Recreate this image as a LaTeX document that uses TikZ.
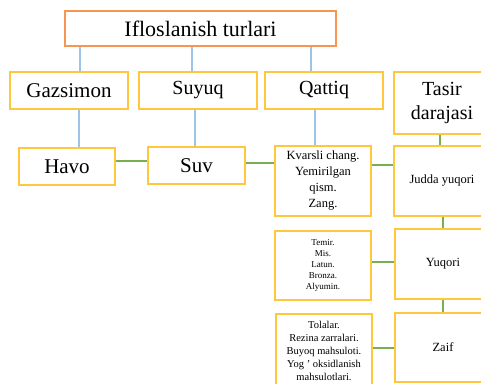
\documentclass[tikz,border=0pt]{standalone}
\usepackage{fontspec}
\setmainfont{Liberation Serif}
\definecolor{orangeline}{RGB}{247,150,80}
\definecolor{goldline}{RGB}{255,200,60}
\definecolor{blueline}{RGB}{157,195,230}
\definecolor{greenline}{RGB}{120,175,80}
\tikzset{
    box/.style={draw=goldline, line width=1.1pt, fill=white, align=center, inner sep=1pt},
    topbox/.style={box, draw=orangeline},
    up/.style={draw=blueline, line width=1.2pt},
    link/.style={draw=greenline, line width=1.3pt}
}
\begin{document}
\begin{tikzpicture}[x=1pt, y=-1pt]
        \useasboundingbox (0,0) rectangle (481,383);
        \clip (0,0) rectangle (481,383);
        % top row
        \node[topbox, minimum width=271pt, minimum height=35pt, font=\fontsize{22}{24}\selectfont] (turlar) at (200.5,28.5) {Ifloslanish turlari};
        \node[box, minimum width=118pt, minimum height=37pt, font=\fontsize{21}{23}\selectfont] (gazsimon) at (69,90.5) {Gazsimon};
        \node[box, minimum width=118pt, minimum height=37pt, font=\fontsize{20}{22}\selectfont] (suyuq) at (198,90.5) {Suyuq};
        \node[box, minimum width=118pt, minimum height=37pt, font=\fontsize{20}{22}\selectfont] (qattiq) at (324,90.5) {Qattiq};
        \node[box, minimum width=96pt, minimum height=62pt, font=\fontsize{20}{24}\selectfont] (tasir) at (442,103) {Tasir\\darajasi};
        % second row
        \node[box, minimum width=96pt, minimum height=37pt, font=\fontsize{21}{23}\selectfont] (havo) at (67,166.5) {Havo};
        \node[box, minimum width=97pt, minimum height=37pt, font=\fontsize{21}{23}\selectfont] (suv) at (196.5,165.5) {Suv};
        \node[box, minimum width=96pt, minimum height=70pt, font=\fontsize{12.5}{16}\selectfont] (kvarsli) at (323,181) {Kvarsli chang.\\Yemirilgan\\qism.\\Zang.};
        \node[box, minimum width=96pt, minimum height=70pt, font=\fontsize{12.5}{15}\selectfont] (judda) at (442,181) {Judda yuqori};
        % lower rows
        \node[box, minimum width=96pt, minimum height=69pt, font=\fontsize{9}{11}\selectfont] (temir) at (323,265.5) {Temir.\\Mis.\\Latun.\\Bronza.\\Alyumin.};
        \node[box, minimum width=96pt, minimum height=70pt, font=\fontsize{12.5}{15}\selectfont] (yuqori) at (443,264) {Yuqori};
        \node[box, minimum width=96pt, minimum height=74pt, font=\fontsize{10.5}{13}\selectfont] (tolalar) at (324,351) {Tolalar.\\Rezina zarralari.\\Buyoq mahsuloti.\\Yog ' oksidlanish\\mahsulotlari.};
        \node[box, minimum width=96pt, minimum height=69pt, font=\fontsize{12.5}{15}\selectfont] (zaif) at (443,347.5) {Zaif};
        % blue lines
        \draw[up] ([xshift=11pt]gazsimon.north) -- ([xshift=11pt]gazsimon.north |- turlar.south);
        \draw[up] ([xshift=-6pt]suyuq.north) -- ([xshift=-6pt]suyuq.north |- turlar.south);
        \draw[up] ([xshift=-13pt]qattiq.north) -- ([xshift=-13pt]qattiq.north |- turlar.south);
        \draw[up] ([xshift=10pt]gazsimon.south) -- ([xshift=10pt]gazsimon.south |- havo.north);
        \draw[up] ([xshift=-3pt]suyuq.south) -- ([xshift=-3pt]suyuq.south |- suv.north);
        \draw[up] ([xshift=-9pt]qattiq.south) -- ([xshift=-9pt]qattiq.south |- kvarsli.north);
        % green lines
        \draw[link] ([yshift=5.5pt]havo.east) -- ([yshift=5.5pt]havo.east -| suv.west);
        \draw[link] ([yshift=2.5pt]suv.east) -- ([yshift=2.5pt]suv.east -| kvarsli.west);
        \draw[link] ([yshift=16pt]kvarsli.east) -- ([yshift=16pt]kvarsli.east -| judda.west);
        \draw[link] ([yshift=3.5pt]temir.east) -- ([yshift=3.5pt]temir.east -| yuqori.west);
        \draw[link] ([yshift=-0.5pt]zaif.west -| tolalar.east) -- ([yshift=-0.5pt]zaif.west);
        \draw[link] ([xshift=-2pt]tasir.south) -- ([xshift=-2pt]tasir.south |- judda.north);
        \draw[link] (judda.south -| yuqori.north) -- (yuqori.north);
        \draw[link] (yuqori.south) -- (zaif.north);
    \end{tikzpicture}
\end{document}
